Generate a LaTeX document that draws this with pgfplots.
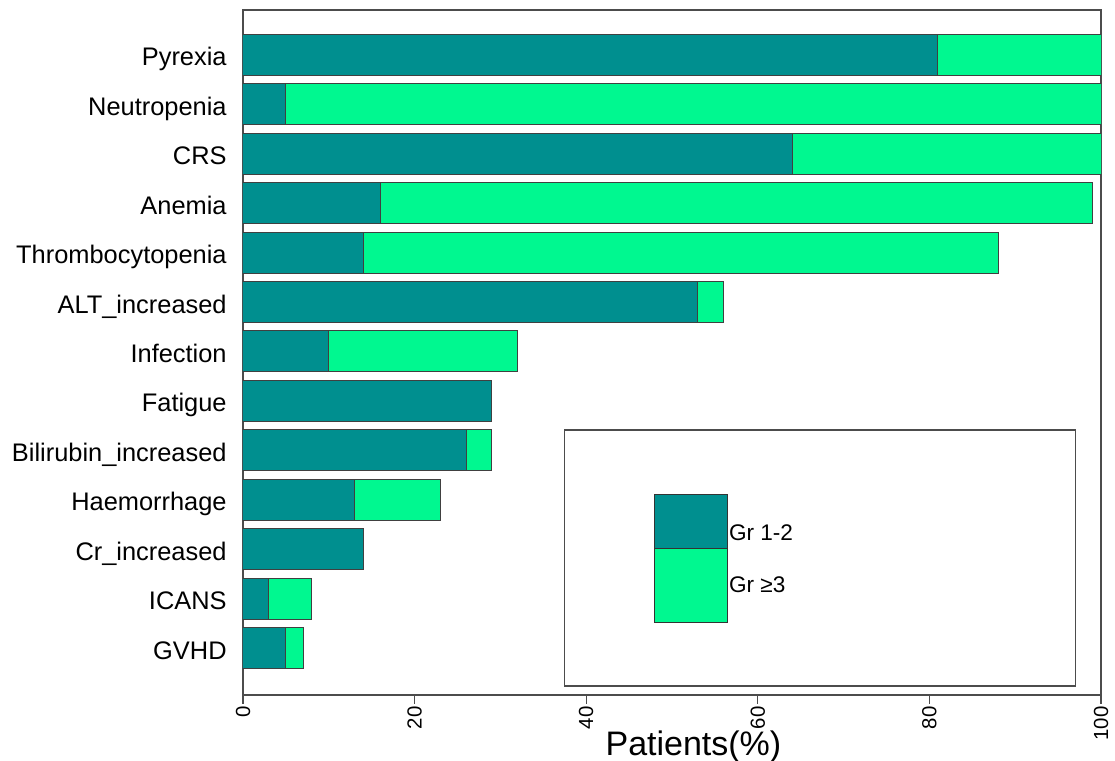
\documentclass[border=0pt]{standalone}
\usepackage{pgfplots}
\pgfplotsset{compat=1.18}
\usepackage{fontspec}
\setmainfont{Liberation Sans}
\definecolor{grA}{HTML}{008F8F}
\definecolor{grB}{HTML}{00F890}
\begin{document}
\begin{tikzpicture}
\begin{axis}[
  name=ax,
  scale only axis,
  width=429bp, height=342.5bp,
  xbar stacked,
  bar width=0.83,
  xmin=0, xmax=100,
  ymin=0.049, ymax=13.91,
  axis line style={black!70, line width=0.6bp},
  /pgf/number format/assume math mode=true,
  xtick={0,20,40,60,80,100},
  xtick pos=lower,
  xtick align=outside,
  xtick style={black!70, line width=0.6bp},
  major tick length=4.5bp,
  xticklabel style={rotate=90, anchor=east, inner sep=1bp, font=\fontsize{10.2bp}{12bp}\selectfont},
  ytick={1,...,13},
  yticklabels={GVHD,ICANS,Cr\_increased,Haemorrhage,Bilirubin\_increased,Fatigue,Infection,ALT\_increased,Thrombocytopenia,Anemia,CRS,Neutropenia,Pyrexia},
  ytick style={draw=none},
  yticklabel style={anchor=base east, inner sep=0pt, xshift=-8bp, yshift=-5.5bp, font=\fontsize{12.7bp}{15bp}\selectfont},
  xlabel={Patients(\%)},
  xlabel style={at={(axis description cs:0.525,-0.089)}, anchor=base, inner sep=0pt, font=\fontsize{17bp}{20bp}\selectfont},
]
\addplot[fill=grA, draw=black!75, line width=0.5bp] coordinates {
(5,1) (3,2) (14,3) (13,4) (26,5) (29,6) (10,7) (53,8) (14,9) (16,10) (64,11) (5,12) (81,13)};
\addplot[fill=grB, draw=black!75, line width=0.5bp] coordinates {
(2,1) (5,2) (0,3) (10,4) (3,5) (0,6) (22,7) (3,8) (74,9) (83,10) (36,11) (95,12) (19,13)};
% legend
\draw[black!70, line width=0.6bp] (axis cs:37.5,0.231) rectangle (axis cs:97.0,5.411);
\draw[black!80, line width=0.5bp, fill=grA] (axis cs:48.0,3.023) rectangle (axis cs:56.5,4.116);
\draw[black!80, line width=0.5bp, fill=grB] (axis cs:48.0,1.526) rectangle (axis cs:56.5,3.023);
\node[anchor=base west, inner sep=0pt, font=\fontsize{11.3bp}{13bp}\selectfont] at (axis cs:56.6,3.185) {Gr 1-2};
\node[anchor=base west, inner sep=0pt, font=\fontsize{11.3bp}{13bp}\selectfont] at (axis cs:56.6,2.113) {Gr ≥3};
\end{axis}
\pgfresetboundingbox
\path ([shift={(-121.5bp,-33bp)}]ax.south west) rectangle ([shift={(7bp,5bp)}]ax.north east);
\end{tikzpicture}
\end{document}
